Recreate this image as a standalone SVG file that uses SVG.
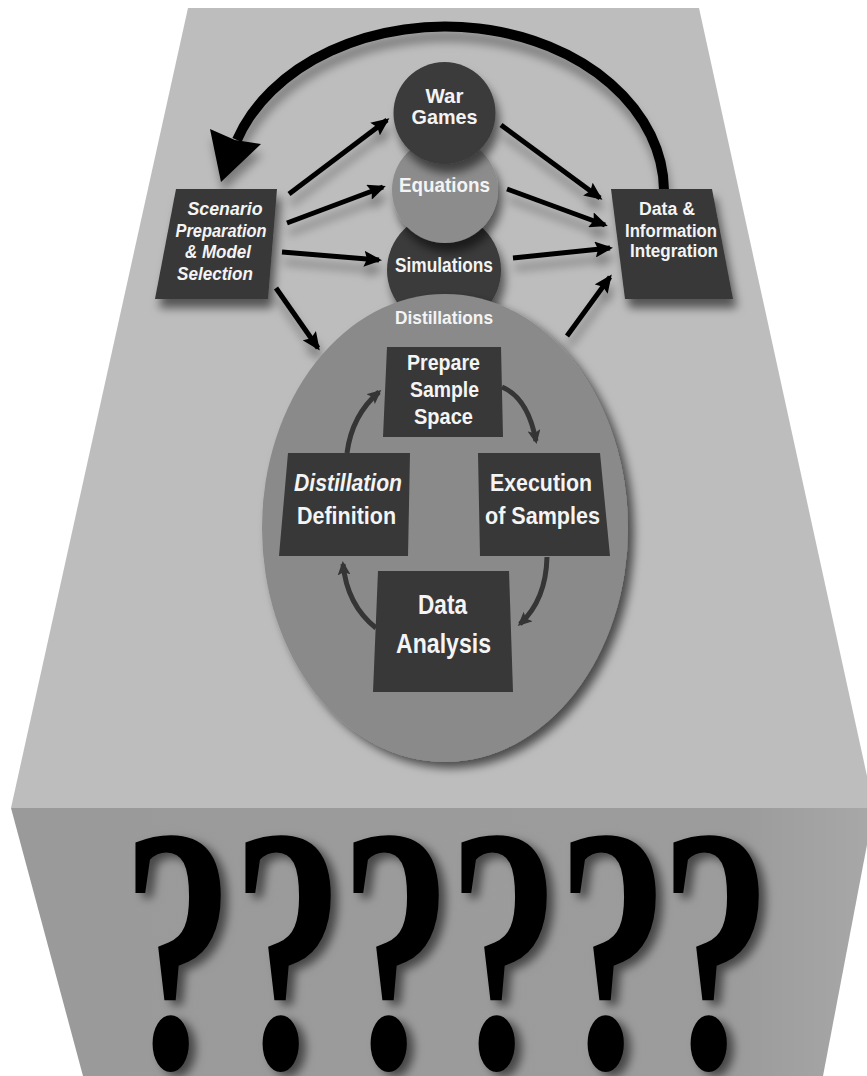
<svg xmlns="http://www.w3.org/2000/svg" width="867" height="1076" viewBox="0 0 867 1076">
<style>
.box{fill:#383838}
.dk{fill:#3a3a3a}
.lt{fill:#8c8c8c}
.t{font-family:"Liberation Sans",Arial,sans-serif;font-weight:bold;fill:#f4f4f4;text-anchor:middle}
.it{font-style:italic}
.ar{stroke:#000;stroke-width:5;fill:none;marker-end:url(#ah)}
.sa{stroke:#353535;stroke-width:5;fill:none;marker-end:url(#sh2)}
.q{font-family:"Liberation Serif","Times New Roman",serif;font-weight:bold;font-size:340px;fill:#000;text-anchor:middle}
</style>
<defs>
<filter id="sh" x="-30%" y="-30%" width="170%" height="180%">
<feDropShadow dx="4" dy="9" stdDeviation="5" flood-color="#000" flood-opacity="0.55"/>
</filter>
<filter id="shE" x="-20%" y="-20%" width="150%" height="150%">
<feDropShadow dx="6" dy="6" stdDeviation="5" flood-color="#000" flood-opacity="0.6"/>
</filter>
<filter id="shA" x="-30%" y="-30%" width="170%" height="190%">
<feDropShadow dx="2" dy="10" stdDeviation="5" flood-color="#000" flood-opacity="0.35"/>
</filter>
<filter id="shQ" x="-30%" y="-20%" width="170%" height="150%">
<feDropShadow dx="7" dy="5" stdDeviation="5" flood-color="#000" flood-opacity="0.55"/>
</filter>
<linearGradient id="front" x1="0" y1="0" x2="1" y2="0">
<stop offset="0" stop-color="#9a9a9a"/>
<stop offset="0.85" stop-color="#9c9c9c"/>
<stop offset="1" stop-color="#a8a8a8"/>
</linearGradient>
<marker id="ah" viewBox="0 0 18 16" markerWidth="18" markerHeight="16" refX="15" refY="8" orient="auto" markerUnits="userSpaceOnUse">
<path d="M0,0 L18,8 L0,16 L3,8 z" fill="#000"/>
</marker>
<marker id="sh2" viewBox="0 0 14 13" markerWidth="14" markerHeight="13" refX="11" refY="6.5" orient="auto" markerUnits="userSpaceOnUse">
<path d="M0,0 L14,6.5 L0,13 L3,6.5 z" fill="#353535"/>
</marker>
</defs>
<rect width="867" height="1076" fill="#ffffff"/>
<g id="block">
<polygon points="188,8 699,8 874,808 11,808" fill="#bdbdbd"/>
<polygon points="11,808 874,808 823,1076 83,1076" fill="url(#front)"/>
</g>
<g id="connectors" filter="url(#shA)">
<path d="M664,190 A219,165 0 0 0 237,140" stroke="#000" stroke-width="10" fill="none"/>
<polygon points="221,182 210,129 235,140 261,144" fill="#000"/>
<path class="ar" d="M289,194 L387,120"/>
<path class="ar" d="M287,223 L383,187"/>
<path class="ar" d="M282,252 L379,260"/>
<path class="ar" d="M276,288 L318,348"/>
<path class="ar" d="M501,125 L600,198"/>
<path class="ar" d="M507,189 L605,225"/>
<path class="ar" d="M513,258 L610,248"/>
<path class="ar" d="M567,336 L610,277"/>
</g>
<g id="simulations">
<circle class="dk" cx="444" cy="270" r="57" filter="url(#sh)"/>
<text class="t" x="444" y="272" font-size="21" textLength="98" lengthAdjust="spacingAndGlyphs">Simulations</text>
</g>
<g id="equations">
<circle class="lt" cx="445" cy="190" r="53" filter="url(#sh)"/>
<text class="t" x="444.5" y="192" font-size="21" textLength="91" lengthAdjust="spacingAndGlyphs">Equations</text>
</g>
<g id="war-games">
<circle class="dk" cx="444.5" cy="113" r="51" filter="url(#sh)"/>
<text class="t" x="444.5" y="103" font-size="21" textLength="38" lengthAdjust="spacingAndGlyphs">War</text>
<text class="t" x="444.5" y="124" font-size="21" textLength="66" lengthAdjust="spacingAndGlyphs">Games</text>
</g>
<g id="scenario">
<polygon class="box" points="176,189 277,189 268,299 155,299" filter="url(#sh)"/>
<text class="t it" x="225" y="215" font-size="18" textLength="75" lengthAdjust="spacingAndGlyphs">Scenario</text>
<text class="t it" x="221" y="237" font-size="18" textLength="91" lengthAdjust="spacingAndGlyphs">Preparation</text>
<text class="t it" x="218" y="258" font-size="18" textLength="66" lengthAdjust="spacingAndGlyphs">&amp; Model</text>
<text class="t it" x="215" y="280" font-size="18" textLength="76" lengthAdjust="spacingAndGlyphs">Selection</text>
</g>
<g id="data-integration">
<polygon class="box" points="611,189 712,189 733,299 625,299" filter="url(#sh)"/>
<text class="t" x="667" y="215" font-size="18" textLength="56" lengthAdjust="spacingAndGlyphs">Data &amp;</text>
<text class="t" x="671" y="237" font-size="18" textLength="92" lengthAdjust="spacingAndGlyphs">Information</text>
<text class="t" x="674" y="257" font-size="18" textLength="88" lengthAdjust="spacingAndGlyphs">Integration</text>
</g>
<g id="distillations">
<ellipse cx="445" cy="528" rx="183" ry="234" fill="#8a8a8a" filter="url(#shE)"/>
<text class="t" x="444" y="324" font-size="19" textLength="98" lengthAdjust="spacingAndGlyphs">Distillations</text>
</g>
<g id="inner-connectors">
<path class="sa" d="M502,387 Q528,398 536,441"/>
<path class="sa" d="M547,557 Q546,600 520,624"/>
<path class="sa" d="M376,628 Q347,605 343,564"/>
<path class="sa" d="M347,453 Q352,415 379,392"/>
</g>
<g id="prepare">
<polygon class="box" points="387,347 501,347 503,437 383,437"/>
<text class="t" x="443.5" y="370" font-size="22" textLength="73" lengthAdjust="spacingAndGlyphs">Prepare</text>
<text class="t" x="444.5" y="397" font-size="22" textLength="69" lengthAdjust="spacingAndGlyphs">Sample</text>
<text class="t" x="443.5" y="424" font-size="22" textLength="59" lengthAdjust="spacingAndGlyphs">Space</text>
</g>
<g id="definition">
<polygon class="box" points="288,453 410,453 408,556 279,556"/>
<text class="t it" x="348" y="491" font-size="23" textLength="108" lengthAdjust="spacingAndGlyphs">Distillation</text>
<text class="t" x="346.5" y="524" font-size="23" textLength="99" lengthAdjust="spacingAndGlyphs">Definition</text>
</g>
<g id="execution">
<polygon class="box" points="478,453 600,453 610,556 480,556"/>
<text class="t" x="541" y="491" font-size="23" textLength="102" lengthAdjust="spacingAndGlyphs">Execution</text>
<text class="t" x="542.5" y="524" font-size="23" textLength="115" lengthAdjust="spacingAndGlyphs">of Samples</text>
</g>
<g id="analysis">
<polygon class="box" points="378,571 509,571 513,692 373,692"/>
<text class="t" x="442.5" y="614" font-size="28" textLength="49" lengthAdjust="spacingAndGlyphs">Data</text>
<text class="t" x="443.5" y="653" font-size="28" textLength="95" lengthAdjust="spacingAndGlyphs">Analysis</text>
</g>
<g id="questions" filter="url(#shQ)">
<text class="q" transform="translate(178,1067) scale(0.66,1.03)">?</text>
<text class="q" transform="translate(288,1067) scale(0.66,1.03)">?</text>
<text class="q" transform="translate(396,1067) scale(0.66,1.03)">?</text>
<text class="q" transform="translate(504,1067) scale(0.66,1.03)">?</text>
<text class="q" transform="translate(613,1067) scale(0.66,1.03)">?</text>
<text class="q" transform="translate(716,1067) scale(0.66,1.03)">?</text>
</g>
</svg>
